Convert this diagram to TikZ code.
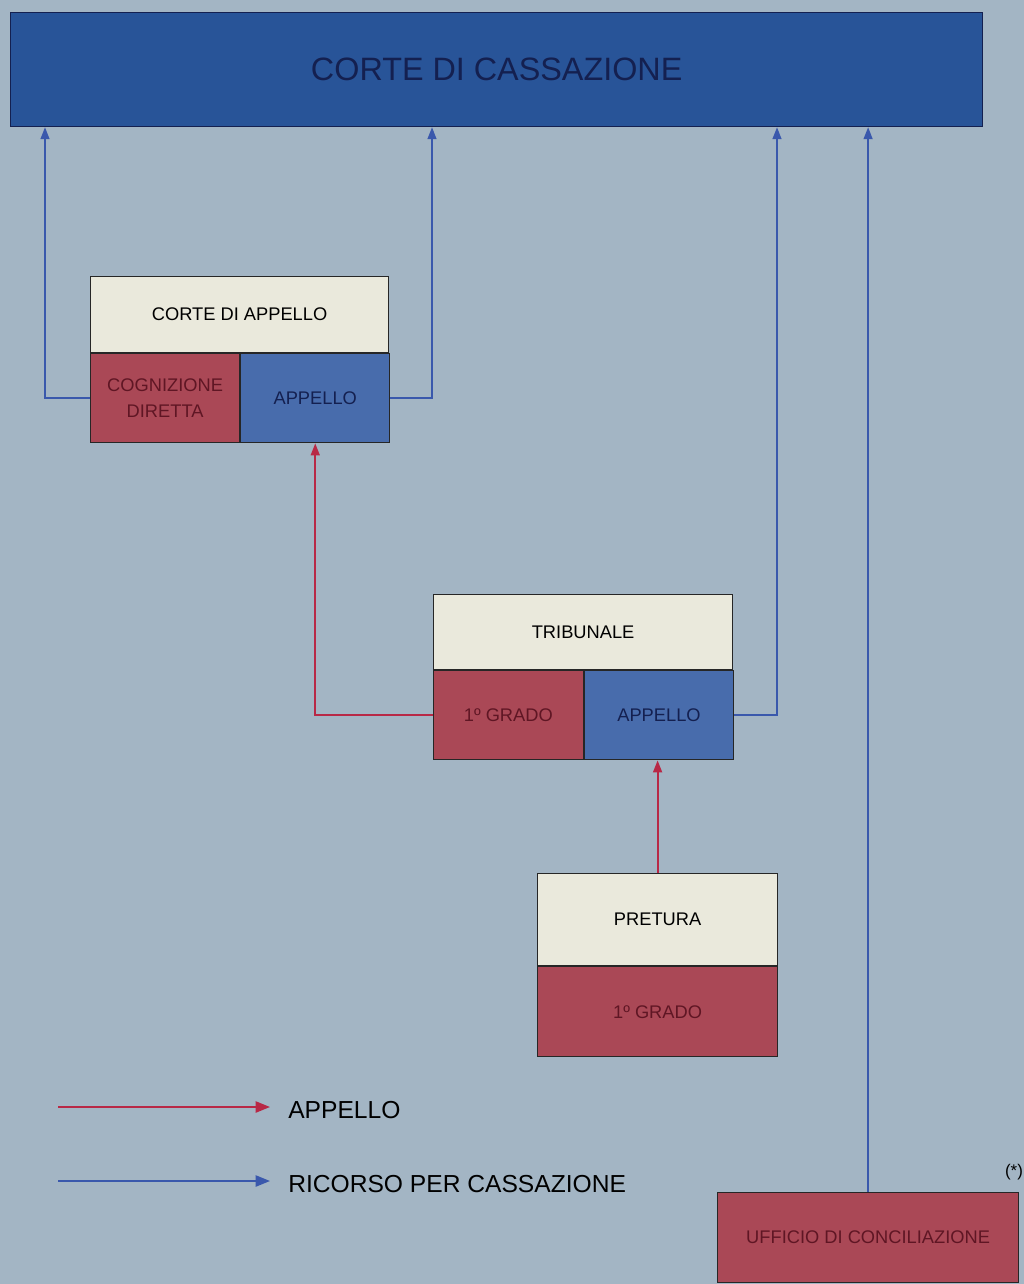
\documentclass[tikz,border=0pt]{standalone}
\usepackage{fontspec}
\setmainfont{Liberation Sans}
\usetikzlibrary{arrows.meta,positioning}
\definecolor{cbg}{RGB}{163,181,196}
\definecolor{ccass}{RGB}{40,84,152}
\definecolor{cred}{RGB}{170,72,86}
\definecolor{cblue}{RGB}{72,108,172}
\definecolor{ccream}{RGB}{234,233,220}
\definecolor{cnavy}{RGB}{20,32,80}
\definecolor{cmaroon}{RGB}{95,22,36}
\definecolor{carred}{RGB}{184,40,70}
\definecolor{carblue}{RGB}{58,88,172}

\begin{document}
\begin{tikzpicture}[x=0.025cm, y=-0.025cm,
    cell/.style={draw=black!85, line width=0.8pt, inner sep=0pt, anchor=north west,
      align=center, font=\fontsize{13}{19}\selectfont},
    head/.style={cell, fill=ccream, text=black},
    first/.style={cell, fill=cred, text=cmaroon},
    second/.style={cell, fill=cblue, text=cnavy},
    appello/.style={carred, line width=1.4pt, -{Triangle[length=3mm, width=2.2mm]}},
    ricorso/.style={carblue, line width=1.4pt, -{Triangle[length=3mm, width=2.2mm]}},
    legend/.style={anchor=west, inner sep=0pt, font=\fontsize{17.5}{20}\selectfont}]
    % background
    \fill[cbg] (0,0) rectangle (1024,1284);
    \useasboundingbox (0,0) rectangle (1024,1284);
    % supreme court
    \node[cell, fill=ccass, draw=cnavy, text=cnavy, minimum width=24.3cm, minimum height=2.85cm,
      font=\fontsize{23}{27}\selectfont] (cc) at (10,12) {CORTE DI CASSAZIONE};
    % corte di appello
    \node[head, minimum width=7.45cm, minimum height=1.9cm] (ca) at (90,276) {CORTE DI APPELLO};
    \node[first, minimum width=3.725cm, minimum height=2.225cm] (ca-cd) at (ca.south west) {COGNIZIONE\\DIRETTA};
    \node[second, minimum width=3.725cm, minimum height=2.225cm] (ca-ap) at (ca-cd.north east) {APPELLO};
    % tribunale
    \node[head, minimum width=7.475cm, minimum height=1.875cm] (tr) at (433,594) {TRIBUNALE};
    \node[first, minimum width=3.7375cm, minimum height=2.225cm] (tr-g) at (tr.south west) {1º GRADO};
    \node[second, minimum width=3.7375cm, minimum height=2.225cm] (tr-ap) at (tr-g.north east) {APPELLO};
    % pretura
    \node[head, minimum width=6cm, minimum height=2.3cm] (pr) at (537,873) {PRETURA};
    \node[first, minimum width=6cm, minimum height=2.25cm] (pr-g) at (pr.south west) {1º GRADO};
    % conciliatore
    \node[first, minimum width=7.525cm, minimum height=2.25cm] (uc) at (717,1192) {UFFICIO DI CONCILIAZIONE};
    \node[inner sep=0pt, font=\fontsize{12}{14}\selectfont] (nota) at (1014,1172) {(*)};
    % ricorsi per cassazione
    \coordinate (x1) at (45,0);
    \coordinate (x2) at (432,0);
    \coordinate (x3) at (777,0);
    \draw[ricorso] (ca-cd.west) -| (cc.south -| x1);
    \draw[ricorso] (ca-ap.east) -| (cc.south -| x2);
    \draw[ricorso] (tr-ap.east) -| (cc.south -| x3);
    \draw[ricorso] (uc.north) -- (cc.south -| uc.north);
    % appelli
    \draw[appello] (tr-g.west) -| (ca-ap.south);
    \draw[appello] (pr.north) -- (pr.north |- tr-ap.south);
    % legend
    \coordinate (la0) at (58,1107);
    \coordinate (la1) at (270,1107);
    \coordinate (lr0) at (58,1181);
    \coordinate (lr1) at (270,1181);
    \draw[appello, -{Triangle[length=3.6mm, width=2.8mm]}] (la0) -- (la1);
    \draw[ricorso, -{Triangle[length=3.6mm, width=2.8mm]}] (lr0) -- (lr1);
    \node[legend] (la) at (288,1110) {APPELLO};
    \node[legend] (lr) at (288,1184) {RICORSO PER CASSAZIONE};
  \end{tikzpicture}
\end{document}
